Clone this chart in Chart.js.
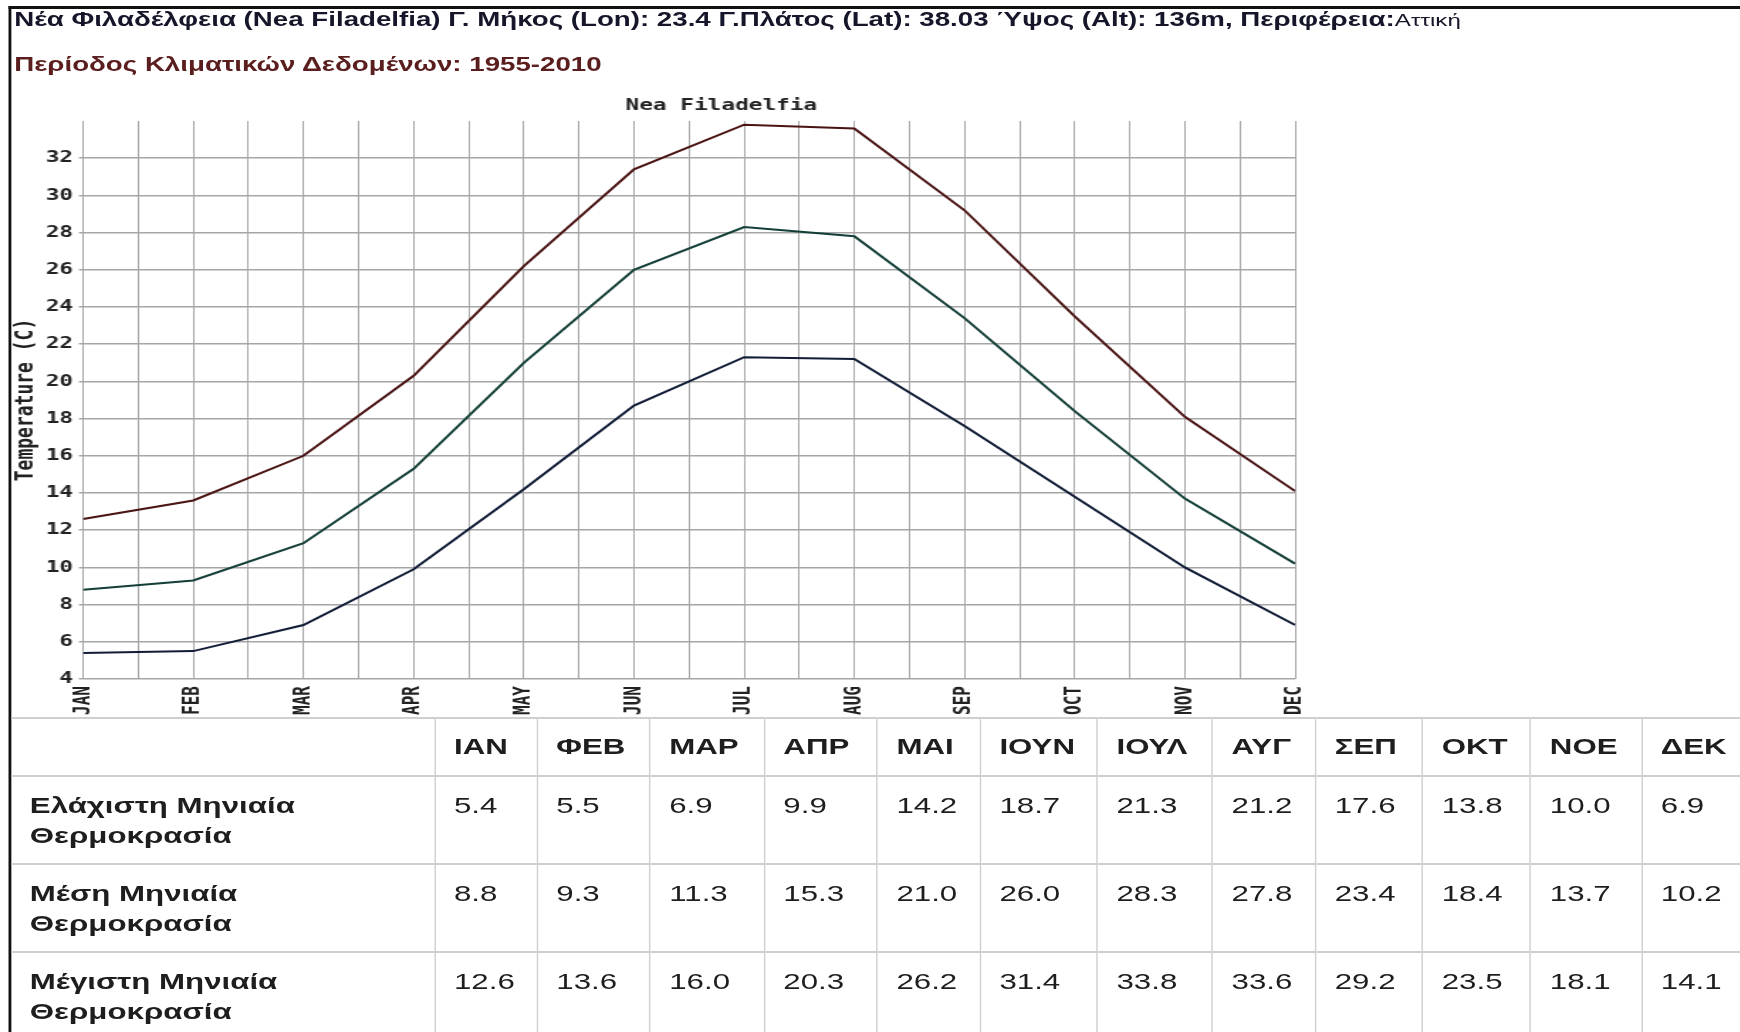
<!DOCTYPE html>
<html>
<head>
<meta charset="utf-8">
<script src="https://cdn.jsdelivr.net/npm/chart.js@4.4.1/dist/chart.umd.min.js"></script>
<style>
  body { margin: 0; background: #fff; overflow: hidden; width: 1740px; height: 1032px; }
  /* the source picture is stretched sideways, so the whole page is too */
  #page { position: absolute; left: 0; top: 0; width: 1226px; height: 1032px; transform: scaleX(1.42); transform-origin: 0 0; font-family: Arial, "Liberation Sans", sans-serif; }
  .frame { position: absolute; left: 6px; top: 6px; right: 0; bottom: 0; border-top: 3px solid #111; border-left: 2px solid #111; }
  .hdr1, .hdr2 { position: absolute; left: 10px; font-size: 19.5px; font-weight: bold; line-height: 22px; white-space: nowrap; }
  .hdr1 { top: 8px; color: #16162a; }
  .hdr1 span { font-weight: normal; font-size: 17px; }
  .hdr2 { top: 53px; color: #5a1e1e; }
  #canvas { position: absolute; left: 0; top: 80px; }
  #tbl { position: absolute; left: 8px; top: 717px; width: 1218px; table-layout: fixed; border-collapse: collapse; color: #1e1e1e; font-size: 22px; }
  #tbl td { border-top: 2px solid #cfcfcf; border-left: 1.5px solid #cfcfcf; padding: 0 0 0 13px; vertical-align: top; line-height: 30px; }
  #tbl td:first-child { border-left: none; padding-left: 13px; font-weight: bold; }
  #tbl tr.head td { height: 56px; vertical-align: middle; font-weight: bold; }
  #tbl tr.row td { height: 88px; padding-top: 14px; box-sizing: border-box; }
</style>
</head>
<body>
<div id="page">
  <div class="frame"></div>
  <div class="hdr1">Νέα Φιλαδέλφεια (Nea Filadelfia) Γ. Μήκος (Lon): 23.4 Γ.Πλάτος (Lat): 38.03 Ύψος (Alt): 136m, Περιφέρεια:<span>Αττική</span></div>
  <div class="hdr2">Περίοδος Κλιματικών Δεδομένων: 1955-2010</div>
  <canvas id="canvas" width="1016" height="636"></canvas>
  <table id="tbl"></table>
</div>
<script>
const months = ["JAN", "FEB", "MAR", "APR", "MAY", "JUN", "JUL", "AUG", "SEP", "OCT", "NOV", "DEC"];
const monthsGr = ["ΙΑΝ", "ΦΕΒ", "ΜΑΡ", "ΑΠΡ", "ΜΑΙ", "ΙΟΥΝ", "ΙΟΥΛ", "ΑΥΓ", "ΣΕΠ", "ΟΚΤ", "ΝΟΕ", "ΔΕΚ"];
const minTemp = [5.4, 5.5, 6.9, 9.9, 14.2, 18.7, 21.3, 21.2, 17.6, 13.8, 10.0, 6.9];
const meanTemp = [8.8, 9.3, 11.3, 15.3, 21.0, 26.0, 28.3, 27.8, 23.4, 18.4, 13.7, 10.2];
const maxTemp = [12.6, 13.6, 16.0, 20.3, 26.2, 31.4, 33.8, 33.6, 29.2, 23.5, 18.1, 14.1];
const rowLabels = ["Ελάχιστη Μηνιαία", "Μέση Μηνιαία", "Μέγιστη Μηνιαία"];
const yMin = 4, yMax = 34, yStep = 2, yLastLabel = 32;

const colWidths = [298, 72, 79.5, 80.3, 79.6, 72.5, 82.4, 81, 72.6, 75.3, 76.1, 78.1, 69.8];

const gridColor = "#a6a6a6";
const mono = "'DejaVu Sans Mono', monospace";

function toPoints(values) {
  return values.map((v, i) => ({ x: i, y: v }));
}

const canvas = document.querySelector("#canvas");
const chart = new Chart(canvas, {
  type: "line",
  data: {
    datasets: [
      { label: "Max", data: toPoints(maxTemp), borderColor: "#4a1414", borderWidth: 2, pointRadius: 0, tension: 0 },
      { label: "Mean", data: toPoints(meanTemp), borderColor: "#143f38", borderWidth: 2, pointRadius: 0, tension: 0 },
      { label: "Min", data: toPoints(minTemp), borderColor: "#111c36", borderWidth: 2, pointRadius: 0, tension: 0 },
    ],
  },
  options: {
    responsive: false,
    animation: false,
    layout: { padding: 0 },
    plugins: {
      legend: { display: false },
      tooltip: { enabled: false },
      title: {
        display: true,
        text: "Nea Filadelfia",
        color: "#222",
        font: { family: mono, size: 16, weight: "bold" },
        padding: { top: 16, bottom: 5.8 },
      },
    },
    scales: {
      x: {
        type: "linear",
        min: 0,
        max: months.length - 1,
        grid: { color: gridColor, lineWidth: 1, drawTicks: false },
        border: { display: false },
        ticks: {
          stepSize: 0.5, // half-month grid lines
          autoSkip: false,
          minRotation: 90,
          maxRotation: 90,
          padding: 7,
          color: "#222",
          font: { family: mono, size: 16, weight: "bold" },
          callback: (v) => (Number.isInteger(v) ? months[v] : ""),
        },
        afterFit: (s) => { s.height = 37; },
      },
      y: {
        min: yMin,
        max: yMax,
        afterBuildTicks: (s) => { s.ticks = s.ticks.filter((t) => t.value <= yLastLabel); },
        grid: { color: gridColor, lineWidth: 1.5, tickLength: 3 },
        border: { display: false },
        ticks: {
          stepSize: yStep,
          padding: 4,
          color: "#222",
          font: { family: mono, size: 16, weight: "bold" },
        },
        title: {
          display: true,
          text: "Temperature (C)",
          color: "#222",
          font: { family: mono, size: 18, weight: "bold" },
          padding: { top: 8, bottom: 0 },
        },
        afterFit: (s) => { s.width = 58.5; },
      },
      side: {
        type: "linear",
        position: "right",
        grid: { display: false },
        border: { display: false },
        ticks: { display: false },
        afterFit: (s) => { s.width = 104; },
      },
    },
  },
});

// table under the chart
const tbl = document.getElementById("tbl");
let html = "<colgroup>" + colWidths.map((w) => `<col style="width:${w}px">`).join("") + "</colgroup>";
html += '<tr class="head"><td></td>' + monthsGr.map((m) => `<td>${m}</td>`).join("") + "</tr>";
[minTemp, meanTemp, maxTemp].forEach((vals, r) => {
  html += `<tr class="row"><td>${rowLabels[r]}<br>Θερμοκρασία</td>`;
  html += vals.map((v) => `<td>${v.toFixed(1)}</td>`).join("") + "</tr>";
});
tbl.innerHTML = html;
</script>
</body>
</html>
